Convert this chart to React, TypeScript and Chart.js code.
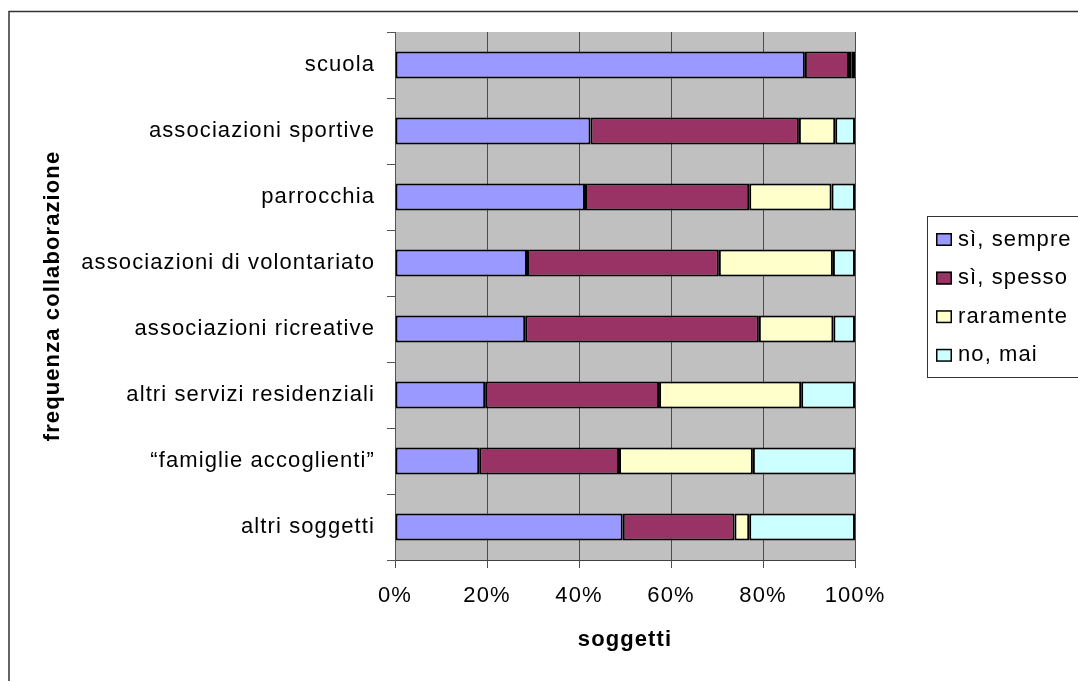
import React, { useEffect, useRef } from 'react';
import { Chart, registerables } from 'chart.js';

Chart.register(...registerables);

const categories = [
  'scuola',
  'associazioni sportive',
  'parrocchia',
  'associazioni di volontariato',
  'associazioni ricreative',
  'altri servizi residenziali',
  '\u201cfamiglie accoglienti\u201d',
  'altri soggetti',
];
const seriesNames = ['sì, sempre', 'sì, spesso', 'raramente', 'no, mai'];
const siSempre = [89.1, 42.5, 41.3, 28.7, 28.3, 19.6, 18.3, 49.5];
const siSpesso = [9.6, 45.3, 35.7, 41.7, 50.8, 37.8, 30.4, 24.3];
const raramente = [0.6, 7.9, 17.9, 24.8, 16.2, 30.9, 29.1, 3.2];
const noMai = [0.7, 4.3, 5.1, 4.8, 4.7, 11.7, 22.2, 23.0];
const xTicks = [0, 20, 40, 60, 80, 100];
const colors = ['#9999FF', '#993366', '#FFFFCC', '#CCFFFF'];

const FONT_FAMILY = '"Liberation Sans", Arial, Helvetica, sans-serif';
const FONT_SIZE = 22;
const SPACING = '1.1px';
const W = 1078;
const H = 681;

const spacingPlugin = {
  id: 'spacing',
  beforeLayout(chart: any) {
    chart.ctx.letterSpacing = SPACING;
  },
  beforeDraw(chart: any) {
    const { ctx, chartArea } = chart;
    ctx.letterSpacing = SPACING;
    ctx.save();
    ctx.fillStyle = '#C0C0C0';
    ctx.fillRect(chartArea.left, chartArea.top, chartArea.right - chartArea.left, chartArea.bottom - chartArea.top);
    ctx.restore();
  },
  afterDraw(chart: any) {
    const ctx = chart.ctx;
    ctx.save();
    ctx.letterSpacing = SPACING;
    // outer frame
    ctx.strokeStyle = '#333333';
    ctx.lineWidth = 1.5;
    ctx.beginPath();
    ctx.moveTo(9, H);
    ctx.lineTo(9, 11.5);
    ctx.lineTo(W, 11.5);
    ctx.stroke();
    // legend frame
    ctx.lineWidth = 1;
    ctx.strokeStyle = '#333333';
    ctx.strokeRect(927.5, 216.5, 220, 161);
    chart.data.datasets.forEach((ds: any, i: number) => {
      const cy = 239.5 + i * 38.6;
      ctx.fillStyle = ds.backgroundColor;
      ctx.fillRect(936, cy - 6.5, 16, 13);
      ctx.strokeStyle = '#000';
      ctx.lineWidth = 1.5;
      ctx.strokeRect(936.75, cy - 5.75, 14.5, 11.5);
      ctx.fillStyle = '#000';
      ctx.font = `${FONT_SIZE}px ${FONT_FAMILY}`;
      ctx.textBaseline = 'middle';
      ctx.textAlign = 'left';
      ctx.fillText(ds.label, 958, cy);
    });
    ctx.restore();
  },
};

export default function App() {
  const ref = useRef<HTMLCanvasElement | null>(null);

  useEffect(() => {
    if (!ref.current) return;
    const seriesValues = [siSempre, siSpesso, raramente, noMai];
    const chart = new Chart(ref.current, {
      type: 'bar',
      data: {
        labels: categories,
        datasets: seriesNames.map((name, i) => ({
          label: name,
          data: seriesValues[i],
          backgroundColor: colors[i],
          borderColor: '#000000',
          borderWidth: 2,
          borderSkipped: false,
          categoryPercentage: 1,
          barPercentage: 0.41,
        })),
      },
      options: {
        indexAxis: 'y',
        animation: false,
        responsive: false,
        maintainAspectRatio: false,
        devicePixelRatio: 1,
        layout: { padding: { top: 32, right: 223, left: 0, bottom: 0 } },
        plugins: {
          legend: { display: false },
          tooltip: { enabled: false },
        },
        scales: {
          x: {
            stacked: true,
            min: 0,
            max: 100,
            afterBuildTicks: (scale: any) => {
              scale.ticks = xTicks.map((v) => ({ value: v }));
            },
            afterFit: (scale: any) => {
              scale.height = H - 560;
            },
            ticks: {
              callback: (v: any) => `${v}%`,
              color: '#000',
              font: { family: FONT_FAMILY, size: FONT_SIZE },
              padding: 15,
              maxRotation: 0,
              autoSkip: false,
            },
            grid: {
              color: '#4d4d4d',
              lineWidth: 1,
              drawTicks: true,
              tickLength: 8,
              tickColor: '#4d4d4d',
            },
            border: { display: true, color: '#404040', width: 1 },
            title: {
              display: true,
              text: 'soggetti',
              color: '#000',
              font: { family: FONT_FAMILY, size: FONT_SIZE, weight: 'bold' },
              padding: { top: 0, bottom: 28 },
            },
          },
          y: {
            stacked: true,
            afterFit: (scale: any) => {
              scale.width = 395;
            },
            ticks: {
              color: '#000',
              font: { family: FONT_FAMILY, size: FONT_SIZE },
              padding: 12,
              autoSkip: false,
            },
            grid: {
              offset: true,
              drawOnChartArea: false,
              drawTicks: true,
              tickLength: 8,
              color: '#555555',
              tickColor: '#555555',
            },
            border: { display: true, color: '#555555', width: 1 },
            title: {
              display: true,
              text: 'frequenza collaborazione',
              color: '#000',
              font: { family: FONT_FAMILY, size: FONT_SIZE, weight: 'bold' },
              padding: { top: 40, bottom: 0 },
            },
          },
        },
      } as any,
      plugins: [spacingPlugin],
    });
    return () => chart.destroy();
  }, []);

  return (
    <div
      style={{
        position: 'fixed',
        left: 0,
        top: 0,
        width: W,
        height: H,
        overflow: 'hidden',
        background: '#ffffff',
      }}
    >
      <canvas ref={ref} width={W} height={H} style={{ display: 'block', width: W, height: H }} />
    </div>
  );
}
